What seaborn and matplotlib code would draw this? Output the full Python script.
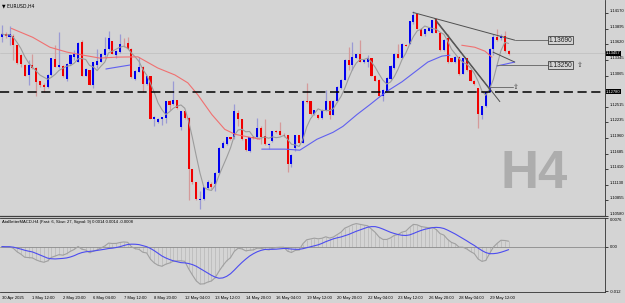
import numpy as np
import pandas as pd
import matplotlib
matplotlib.use("Agg")
import matplotlib.pyplot as plt
import matplotlib.transforms as mtransforms
import seaborn as sns

# EURUSD H4 candles, 30 Apr 2025 04:00 -> 30 May 2025
opens = [1.1375, 1.1379, 1.1375, 1.1377, 1.1360, 1.1342, 1.1325, 1.1307, 1.1325, 1.1319,
         1.1296, 1.1289, 1.1287, 1.1307, 1.1335, 1.1322, 1.1324, 1.1300, 1.1326, 1.1340,
         1.1331, 1.1365, 1.1306, 1.1316, 1.1289, 1.1325, 1.1331, 1.1342, 1.1354, 1.1367,
         1.1342, 1.1348, 1.1363, 1.1364, 1.1354, 1.1300, 1.1313, 1.1322, 1.1291, 1.1305,
         1.1229, 1.1225, 1.1229, 1.1232, 1.1261, 1.1256, 1.1263, 1.1215, 1.1243, 1.1232,
         1.1141, 1.1118, 1.1086, 1.1089, 1.1108, 1.1115, 1.1115, 1.1134, 1.1179, 1.1185,
         1.1197, 1.1197, 1.1240, 1.1229, 1.1194, 1.1173, 1.1197, 1.1197, 1.1214, 1.1200,
         1.1184, 1.1190, 1.1208, 1.1208, 1.1202, 1.1201, 1.1150, 1.1179, 1.1201, 1.1188,
         1.1262, 1.1261, 1.1239, 1.1237, 1.1232, 1.1245, 1.1262, 1.1237, 1.1261, 1.1284,
         1.1299, 1.1334, 1.1325, 1.1338, 1.1344, 1.1330, 1.1331, 1.1337, 1.1306, 1.1299,
         1.1270, 1.1279, 1.1300, 1.1319, 1.1345, 1.1338, 1.1361, 1.1363, 1.1401, 1.1415,
         1.1389, 1.1379, 1.1386, 1.1382, 1.1407, 1.1382, 1.1351, 1.1372, 1.1337, 1.1330,
         1.1340, 1.1310, 1.1337, 1.1316, 1.1297, 1.1284, 1.1237, 1.1252, 1.1278, 1.1354,
         1.1375, 1.1372, 1.1377, 1.1350]
closes = [1.1380, 1.1376, 1.1380, 1.1360, 1.1328, 1.1326, 1.1306, 1.1325, 1.1320, 1.1295,
          1.1290, 1.1287, 1.1307, 1.1337, 1.1322, 1.1325, 1.1305, 1.1326, 1.1342, 1.1344,
          1.1364, 1.1306, 1.1318, 1.1290, 1.1330, 1.1332, 1.1345, 1.1353, 1.1373, 1.1345,
          1.1350, 1.1362, 1.1362, 1.1354, 1.1303, 1.1315, 1.1322, 1.1291, 1.1305, 1.1230,
          1.1233, 1.1230, 1.1233, 1.1261, 1.1255, 1.1264, 1.1249, 1.1243, 1.1232, 1.1141,
          1.1118, 1.1089, 1.1089, 1.1109, 1.1119, 1.1110, 1.1134, 1.1179, 1.1188, 1.1197,
          1.1194, 1.1243, 1.1229, 1.1194, 1.1175, 1.1197, 1.1196, 1.1214, 1.1197, 1.1185,
          1.1186, 1.1208, 1.1207, 1.1202, 1.1200, 1.1150, 1.1166, 1.1201, 1.1188, 1.1262,
          1.1260, 1.1239, 1.1245, 1.1232, 1.1246, 1.1262, 1.1237, 1.1262, 1.1287, 1.1299,
          1.1334, 1.1325, 1.1340, 1.1344, 1.1331, 1.1334, 1.1337, 1.1306, 1.1297, 1.1271,
          1.1281, 1.1302, 1.1324, 1.1345, 1.1338, 1.1363, 1.1359, 1.1402, 1.1414, 1.1389,
          1.1377, 1.1388, 1.1390, 1.1404, 1.1382, 1.1351, 1.1370, 1.1331, 1.1331, 1.1340,
          1.1310, 1.1337, 1.1316, 1.1297, 1.1291, 1.1239, 1.1252, 1.1278, 1.1354, 1.1375,
          1.1369, 1.1377, 1.1350, 1.1345]
highs = [1.1395, 1.1383, 1.1394, 1.1380, 1.1361, 1.1345, 1.1326, 1.1334, 1.1345, 1.1322,
         1.1297, 1.1293, 1.1309, 1.1338, 1.1360, 1.1384, 1.1325, 1.1328, 1.1344, 1.1351,
         1.1366, 1.1369, 1.1320, 1.1317, 1.1331, 1.1354, 1.1347, 1.1375, 1.1386, 1.1368,
         1.1351, 1.1380, 1.1372, 1.1375, 1.1355, 1.1316, 1.1340, 1.1323, 1.1306, 1.1306,
         1.1235, 1.1232, 1.1234, 1.1262, 1.1264, 1.1297, 1.1264, 1.1244, 1.1244, 1.1233,
         1.1142, 1.1119, 1.1103, 1.1110, 1.1121, 1.1118, 1.1135, 1.1180, 1.1190, 1.1198,
         1.1198, 1.1256, 1.1246, 1.1230, 1.1195, 1.1198, 1.1200, 1.1232, 1.1217, 1.1229,
         1.1188, 1.1209, 1.1211, 1.1225, 1.1205, 1.1202, 1.1167, 1.1202, 1.1202, 1.1263,
         1.1293, 1.1262, 1.1246, 1.1239, 1.1247, 1.1281, 1.1263, 1.1263, 1.1288, 1.1300,
         1.1335, 1.1357, 1.1366, 1.1345, 1.1369, 1.1335, 1.1342, 1.1338, 1.1307, 1.1300,
         1.1282, 1.1303, 1.1325, 1.1347, 1.1363, 1.1364, 1.1363, 1.1403, 1.1421, 1.1417,
         1.1390, 1.1389, 1.1391, 1.1405, 1.1408, 1.1383, 1.1371, 1.1380, 1.1338, 1.1341,
         1.1341, 1.1338, 1.1338, 1.1317, 1.1298, 1.1285, 1.1253, 1.1279, 1.1355, 1.1380,
         1.1389, 1.1379, 1.1386, 1.1351]
lows = [1.1366, 1.1372, 1.1360, 1.1334, 1.1326, 1.1322, 1.1305, 1.1290, 1.1318, 1.1271,
        1.1287, 1.1278, 1.1284, 1.1306, 1.1321, 1.1320, 1.1303, 1.1296, 1.1325, 1.1334,
        1.1330, 1.1305, 1.1305, 1.1289, 1.1284, 1.1319, 1.1330, 1.1337, 1.1351, 1.1344,
        1.1337, 1.1347, 1.1357, 1.1353, 1.1302, 1.1299, 1.1312, 1.1278, 1.1290, 1.1229,
        1.1217, 1.1223, 1.1219, 1.1223, 1.1246, 1.1255, 1.1248, 1.1211, 1.1230, 1.1087,
        1.1115, 1.1086, 1.1070, 1.1087, 1.1106, 1.1106, 1.1102, 1.1132, 1.1178, 1.1184,
        1.1193, 1.1195, 1.1217, 1.1193, 1.1173, 1.1172, 1.1194, 1.1194, 1.1185, 1.1184,
        1.1176, 1.1189, 1.1205, 1.1201, 1.1198, 1.1135, 1.1144, 1.1173, 1.1187, 1.1187,
        1.1258, 1.1237, 1.1237, 1.1230, 1.1230, 1.1243, 1.1229, 1.1236, 1.1260, 1.1283,
        1.1298, 1.1316, 1.1316, 1.1337, 1.1330, 1.1328, 1.1322, 1.1305, 1.1296, 1.1270,
        1.1261, 1.1278, 1.1299, 1.1318, 1.1337, 1.1337, 1.1358, 1.1362, 1.1398, 1.1388,
        1.1376, 1.1377, 1.1385, 1.1381, 1.1381, 1.1350, 1.1350, 1.1328, 1.1330, 1.1328,
        1.1307, 1.1309, 1.1315, 1.1296, 1.1290, 1.1214, 1.1229, 1.1251, 1.1277, 1.1342,
        1.1367, 1.1370, 1.1348, 1.1342]

date_labels = ["30 Apr 2025", "1 May 12:00", "2 May 20:00", "6 May 04:00", "7 May 12:00",
               "8 May 20:00", "12 May 04:00", "13 May 12:00", "14 May 20:00", "16 May 04:00",
               "19 May 12:00", "20 May 20:00", "22 May 04:00", "23 May 12:00", "26 May 20:00",
               "28 May 04:00", "29 May 12:00"]
price_ticks = [1.14170, 1.13895, 1.13620, 1.13345, 1.13065, 1.12515, 1.12235,
               1.11960, 1.11685, 1.11410, 1.11130, 1.10855, 1.10580]

# coloured moving-average segments (bar position, price)
red_x1 = [2.5, 8.1, 12.6, 17.1, 21.3, 25.7, 30.2, 35.7, 40.9, 45.4, 48.8, 51.4, 55.1, 58.5, 61.2, 63.8, 67.7]
red_y1 = [1.13898, 1.13740, 1.13565, 1.13478, 1.13425, 1.13373, 1.13390, 1.13395, 1.13198,
          1.13075, 1.12935, 1.12725, 1.12375, 1.12113, 1.12025, 1.11990, 1.11938]
red_x2 = [120.7, 124.1, 126.8, 128.6]
red_y2 = [1.13600, 1.13565, 1.13495, 1.13390]
blue_x1 = [27.3, 30.4, 33.6]
blue_y1 = [1.13180, 1.13215, 1.13250]
blue_x2 = [68.2, 74.3, 78.2, 82.7, 86.9, 89.5, 93.2, 96.6, 99.2, 101.3, 105.0, 108.4, 111.8, 115.5, 117.6]
blue_y2 = [1.11763, 1.11763, 1.11745, 1.11938, 1.12060, 1.12165, 1.12375, 1.12550, 1.12690,
           1.12795, 1.12953, 1.13128, 1.13303, 1.13408, 1.13425]
blue_x3 = [129.9, 132.3, 134.6]
blue_y3 = [1.13233, 1.13268, 1.13303]

support_level = 1.12780
bid_price = 1.13457
upper_level = 1.13690
lower_level = 1.13250

BG = "#d4d4d4"
sns.set_style("white", rc={"axes.facecolor": BG, "figure.facecolor": BG})
plt.rcParams['font.family'] = ['Liberation Sans', 'DejaVu Sans']

df = pd.DataFrame({"open": opens, "high": highs, "low": lows, "close": closes})
df["bar"] = np.arange(len(df))
df["ma_fast"] = df["close"].rolling(5, min_periods=1).mean()
ema_fast = df["close"].ewm(span=6, adjust=False).mean()
ema_slow = df["close"].ewm(span=27, adjust=False).mean()
df["macd"] = ema_fast - ema_slow
df["signal"] = df["macd"].rolling(9, min_periods=1).mean()

fig = plt.figure(figsize=(6.25, 3.03), dpi=100)
ax = fig.add_axes([0.0, 0.287, 0.968, 0.713])
axm = fig.add_axes([0.0, 0.036, 0.968, 0.245], sharex=ax)

bull = df["close"] >= df["open"]
wick_c = np.where(bull, "#9a9ad4", "#d49a9a")
body_c = np.where(bull, "#0000f0", "#f00000")
ax.vlines(df["bar"], df["low"], df["high"], colors=wick_c, lw=0.9, zorder=2)
body_h = np.maximum((df["close"] - df["open"]).abs(), 0.00008)
ax.bar(df["bar"], body_h, bottom=np.minimum(df["open"], df["close"]), width=0.55,
       color=body_c, linewidth=0, zorder=3)

sns.lineplot(data=df, x="bar", y="ma_fast", ax=ax, color="#9c9c9c", lw=0.8, zorder=4)
for xs, ys, col in [(red_x1, red_y1, "#f07070"), (red_x2, red_y2, "#f07070"),
                    (blue_x1, blue_y1, "#6060f0"), (blue_x2, blue_y2, "#6060f0"),
                    (blue_x3, blue_y3, "#6060f0")]:
    sns.lineplot(x=xs, y=ys, ax=ax, color=col, lw=0.8, zorder=4)

# levels and trend lines
ax.axhline(support_level, color="black", lw=1.1, ls=(0, (6, 3)), zorder=5)
ax.axhline(bid_price, color="#c2c2c2", lw=0.6, zorder=1)
tl = "#505050"
ax.plot([107.9, 134.6], [1.1418, upper_level], color=tl, lw=0.7, zorder=5)
ax.plot([134.6, 143.3], [upper_level, upper_level], color="#707070", lw=0.7, zorder=5)
ax.plot([113.6, 130.7], [1.14073, 1.12603], color=tl, lw=0.7, zorder=5)
ax.plot([114.2, 128.1], [1.14003, 1.12813], color=tl, lw=0.7, zorder=5)
ax.plot([128.9, 134.6], [1.13478, 1.13303], color=tl, lw=0.7, zorder=5)
ax.plot([129.9, 143.3], [lower_level, lower_level], color="#707070", lw=0.7, zorder=5)
ax.plot([128.1, 134.1], [1.12865, 1.12865], color="#707070", lw=0.7, zorder=5)
ax.text(134.2, 1.12865, "\u21e7", fontsize=5, va="center", ha="left", color="#404040",
        family=["DejaVu Sans"], zorder=6)
for lvl, arrow in [(upper_level, False), (lower_level, True)]:
    ax.text(143.5, lvl, f"{lvl:.5f}", fontsize=4.8, va="center", ha="left", color="#202020",
            bbox=dict(boxstyle="square,pad=0.12", fc=BG, ec="#404040", lw=0.6), zorder=6)
    if arrow:
        ax.text(150.9, lvl, "\u21e7", fontsize=5, va="center", ha="left", color="#404040",
                family=["DejaVu Sans"], zorder=6)

ax.text(131.0, 1.1133, "H4", fontsize=38, fontweight="bold", color="#adadad",
        va="center", ha="left", zorder=0)
ax.text(0.003, 0.985, "\u25bc EURUSD,H4", transform=ax.transAxes, fontsize=3.3,
        va="top", ha="left", color="black", family=["DejaVu Sans"])

ax.set_xlim(-0.5, 158.3)
ax.set_ylim(1.10620, 1.14400)
ax.yaxis.tick_right()
ax.set_yticks(price_ticks)
ax.set_yticklabels([f"{p:.5f}" for p in price_ticks])
ax.tick_params(axis="y", length=2, width=0.5, pad=1.5, labelsize=3, colors="black")
ax.tick_params(axis="x", bottom=False, labelbottom=False)
ax.set_xlabel("")
ax.set_ylabel("")
lift = mtransforms.ScaledTranslation(0, 2.5 / 100, fig.dpi_scale_trans)
for lab in ax.get_yticklabels():
    lab.set_transform(lab.get_transform() + lift)

# price tags on the axis
ytrans = mtransforms.blended_transform_factory(ax.transAxes, ax.transData)
for lvl in [bid_price, support_level]:
    ax.text(1.002, lvl, f"{lvl:.5f}", transform=ytrans, fontsize=3, color="white",
            va="center", ha="left", clip_on=False,
            bbox=dict(boxstyle="square,pad=0.15", fc="black", ec="none"))

for side in ["left", "top"]:
    ax.spines[side].set_visible(False)
ax.spines["right"].set_color("#303030")
ax.spines["right"].set_linewidth(0.6)
ax.spines["bottom"].set_color("#404040")
ax.spines["bottom"].set_linewidth(0.9)

# MACD sub-window
axm.vlines(df["bar"], 0, df["macd"], colors="#b0b0b0", lw=0.4, zorder=1)
axm.axhline(0, color="#8a8a8a", lw=0.6, zorder=1)
sns.lineplot(data=df, x="bar", y="macd", ax=axm, color="#a0a0a0", lw=0.8, zorder=2)
sns.lineplot(data=df, x="bar", y="signal", ax=axm, color="#4c4cf0", lw=0.8, zorder=3)
last = df.iloc[-1]
axm.text(0.003, 0.97, "AtaBetterMACD-H4 (Fast: 6, Slow: 27, Signal: 9) "
         f"{last['macd']:.4f} {last['macd']:.4f} {last['signal']:.4f}",
         transform=axm.transAxes, fontsize=3, va="top", ha="left", color="black")
axm.set_ylim(-0.0122, 0.0077)
axm.yaxis.tick_right()
axm.set_yticks([0.0076, 0.0, -0.012])
axm.set_yticklabels(["0.0076", "0.00", "-0.012"])
axm.tick_params(axis="y", length=2, width=0.5, pad=1.5, labelsize=3, colors="black")
axm.set_xticks(np.arange(0, 136, 8))
axm.set_xticklabels(date_labels, ha="left")
axm.tick_params(axis="x", length=2, width=0.5, pad=1, labelsize=3, colors="black")
axm.set_xlabel("")
axm.set_ylabel("")
drop = mtransforms.ScaledTranslation(0, -1.5 / 100, fig.dpi_scale_trans)
axm.get_yticklabels()[0].set_transform(axm.get_yticklabels()[0].get_transform() + drop)
axm.spines["left"].set_visible(False)
for side in ["right", "top", "bottom"]:
    axm.spines[side].set_color("#303030")
    axm.spines[side].set_linewidth(0.6)

fig.savefig("out.png", dpi=100, facecolor=BG)
